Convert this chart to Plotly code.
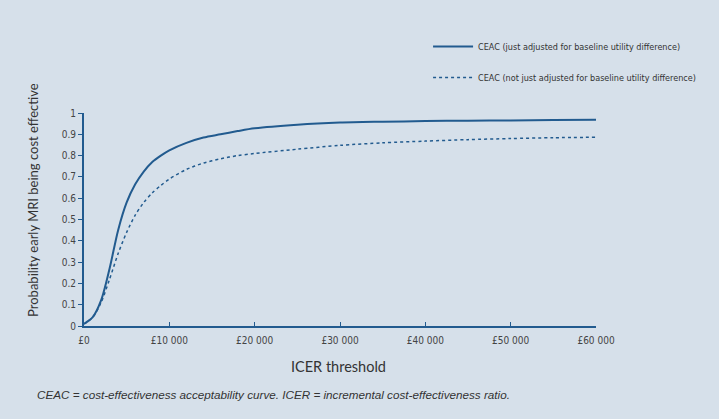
import plotly.graph_objects as go

# Data
threshold = [0, 1000, 2000, 3000, 4000, 5000, 6000, 7000, 8000, 9000, 10000, 12000, 14000,
             16000, 18000, 20000, 25000, 30000, 35000, 40000, 45000, 50000, 55000, 60000]
ceac_adjusted = [0.01, 0.04, 0.12, 0.27, 0.45, 0.58, 0.665, 0.725, 0.77, 0.80, 0.825, 0.86, 0.885,
                 0.90, 0.915, 0.928, 0.945, 0.955, 0.959, 0.962, 0.964, 0.965, 0.967, 0.968]
ceac_not_adjusted = [0.01, 0.04, 0.11, 0.22, 0.34, 0.44, 0.52, 0.58, 0.625, 0.66, 0.69, 0.735, 0.765,
                     0.785, 0.80, 0.81, 0.83, 0.848, 0.86, 0.868, 0.875, 0.88, 0.884, 0.886]

x_tick_vals = [0, 10000, 20000, 30000, 40000, 50000, 60000]
x_tick_text = ["£0", "£10 000", "£20 000", "£30 000", "£40 000", "£50 000", "£60 000"]
y_tick_vals = [0, 0.1, 0.2, 0.3, 0.4, 0.5, 0.6, 0.7, 0.8, 0.9, 1]
y_tick_text = ["0", "0.1", "0.2", "0.3", "0.4", "0.5", "0.6", "0.7", "0.8", "0.9", "1"]

BG = "#d6e0ea"
LINE = "#225b8f"
NARROW = "Liberation Sans Narrow, DejaVu Sans Condensed, Arial Narrow, sans-serif"
TITLE_FONT = "Lato, Open Sans, sans-serif"

fig = go.Figure()
fig.add_trace(go.Scatter(
    x=threshold, y=ceac_adjusted, mode="lines", line=dict(color=LINE, width=2, shape="spline", smoothing=0.8),
    name="CEAC (just adjusted for baseline utility difference)", legend="legend"))
fig.add_trace(go.Scatter(
    x=threshold, y=ceac_not_adjusted, mode="lines",
    line=dict(color=LINE, width=1.5, dash="dot", shape="spline", smoothing=0.8),
    name="CEAC (not just adjusted for baseline utility difference)", legend="legend2"))

legend_common = dict(bgcolor="rgba(0,0,0,0)", font=dict(family=NARROW, size=9, color="#333333"),
                     xanchor="left", yanchor="middle", itemwidth=40, visible=True)
fig.update_layout(
    width=719, height=419,
    showlegend=True,
    paper_bgcolor=BG, plot_bgcolor=BG,
    margin=dict(l=84, r=123, t=113, b=93, autoexpand=False),
    legend=dict(x=0.672, y=1.312, **legend_common),
    legend2=dict(x=0.672, y=1.167, **legend_common),
    xaxis=dict(range=[0, 60000], tickvals=x_tick_vals, ticktext=x_tick_text,
               showgrid=False, zeroline=False, showline=True, linecolor=LINE, linewidth=2,
               ticks="inside", ticklen=4, tickcolor=LINE, automargin=False, ticklabelstandoff=4,
               tickfont=dict(family=NARROW, size=10, color="#444444")),
    yaxis=dict(range=[0, 1], tickvals=y_tick_vals, ticktext=y_tick_text,
               showgrid=False, zeroline=False, showline=True, linecolor=LINE, linewidth=2,
               ticks="outside", ticklen=4, tickcolor=LINE, automargin=False,
               tickfont=dict(family=NARROW, size=10, color="#444444")),
    annotations=[
        dict(text="Probability early MRI being cost effective", textangle=-90,
             xref="paper", yref="paper", x=-0.0996, y=0.592, xanchor="center", yanchor="middle",
             showarrow=False, font=dict(family=TITLE_FONT, size=13, color="#333333")),
        dict(text="ICER threshold",
             xref="paper", yref="paper", x=0.498, y=-0.192, xanchor="center", yanchor="middle",
             showarrow=False, font=dict(family=TITLE_FONT, size=14.5, color="#333333")),
        dict(text="<i>CEAC = cost-effectiveness acceptability curve. ICER = incremental cost-effectiveness ratio.</i>",
             xref="paper", yref="paper", x=-0.095, y=-0.32, xanchor="left", yanchor="middle",
             showarrow=False, font=dict(family="Liberation Sans, Arial, sans-serif", size=11.7, color="#333333")),
    ],
)

fig.write_html("out.html", config={"displayModeBar": False},
               post_script="document.body.style.margin='0';")
